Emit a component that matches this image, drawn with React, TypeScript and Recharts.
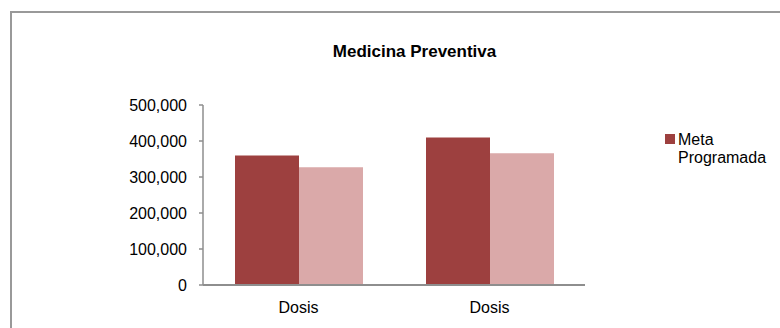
import React from "react";
import { BarChart, Bar, XAxis, YAxis } from "recharts";

const categories = ["Dosis", "Dosis"];
const metaProgramada = [360000, 410000];
const logrado = [327000, 366000];
const yTicks = [0, 100000, 200000, 300000, 400000, 500000];
const boundaryTicks = [0, 1, 2];
const title = "Medicina Preventiva";
const legendLabels = ["Meta Programada"];

const DARK = "#9D403F";
const LIGHT = "#DAA9A9";
const AXIS = "#8e8e8e";
const FONT = "'Liberation Sans', Arial, sans-serif";

const data = categories.map((c, i) => ({
  name: c,
  meta: metaProgramada[i],
  logrado: logrado[i],
}));

const fmt = (v: number) => v.toLocaleString("en-US");

export default function App() {
  return (
    <div
      style={{
        position: "absolute",
        left: 0,
        top: 0,
        width: 780,
        height: 328,
        overflow: "hidden",
        background: "#fff",
        fontFamily: FONT,
      }}
    >
      <div
        style={{
          position: "absolute",
          left: 10,
          top: 11,
          width: 770,
          height: 317,
          boxSizing: "border-box",
          borderTop: "2px solid #999",
          borderLeft: "2px solid #999",
        }}
      />
      <div
        style={{
          position: "absolute",
          left: 414.5,
          top: 43,
          transform: "translateX(-50%)",
          fontSize: 17,
          lineHeight: "17px",
          fontWeight: "bold",
          whiteSpace: "nowrap",
          color: "#000",
        }}
      >
        {title}
      </div>
      <div style={{ position: "absolute", left: 0, top: 0 }}>
        <BarChart
          width={780}
          height={328}
          data={data}
          margin={{ top: 105, right: 195, bottom: 0, left: 0 }}
          barCategoryGap={32}
          barGap={0}
        >
          <XAxis
            xAxisId="b"
            type="number"
            domain={[0, 2]}
            ticks={boundaryTicks}
            allowDataOverflow
            height={0}
            axisLine={false}
            tick={false}
            tickSize={4}
            tickLine={{ stroke: AXIS, strokeWidth: 1.5 }}
          />
          <XAxis
            dataKey="name"
            height={43}
            tickLine={false}
            tickSize={4}
            tickMargin={13}
            axisLine={{ stroke: AXIS, strokeWidth: 2 }}
            tick={{ fill: "#000", fontSize: 16, fontFamily: FONT }}
            interval={0}
          />
          <YAxis
            width={203}
            domain={[0, 500000]}
            ticks={yTicks}
            tickFormatter={fmt}
            tickSize={4}
            tickMargin={12}
            axisLine={{ stroke: AXIS, strokeWidth: 1.5 }}
            tickLine={{ stroke: AXIS, strokeWidth: 1.5 }}
            tick={{ fill: "#000", fontSize: 16, fontFamily: FONT }}
          />
          <Bar dataKey="meta" name={legendLabels[0]} fill={DARK} isAnimationActive={false} />
          <Bar dataKey="logrado" fill={LIGHT} legendType="none" isAnimationActive={false} />
        </BarChart>
      </div>
      <div
        style={{
          position: "absolute",
          left: 665,
          top: 134,
          width: 10,
          height: 10,
          background: DARK,
        }}
      />
      <div
        style={{
          position: "absolute",
          left: 678,
          top: 130.5,
          width: 95,
          fontSize: 16,
          lineHeight: "18px",
          color: "#000",
        }}
      >
        {legendLabels[0]}
      </div>
    </div>
  );
}
